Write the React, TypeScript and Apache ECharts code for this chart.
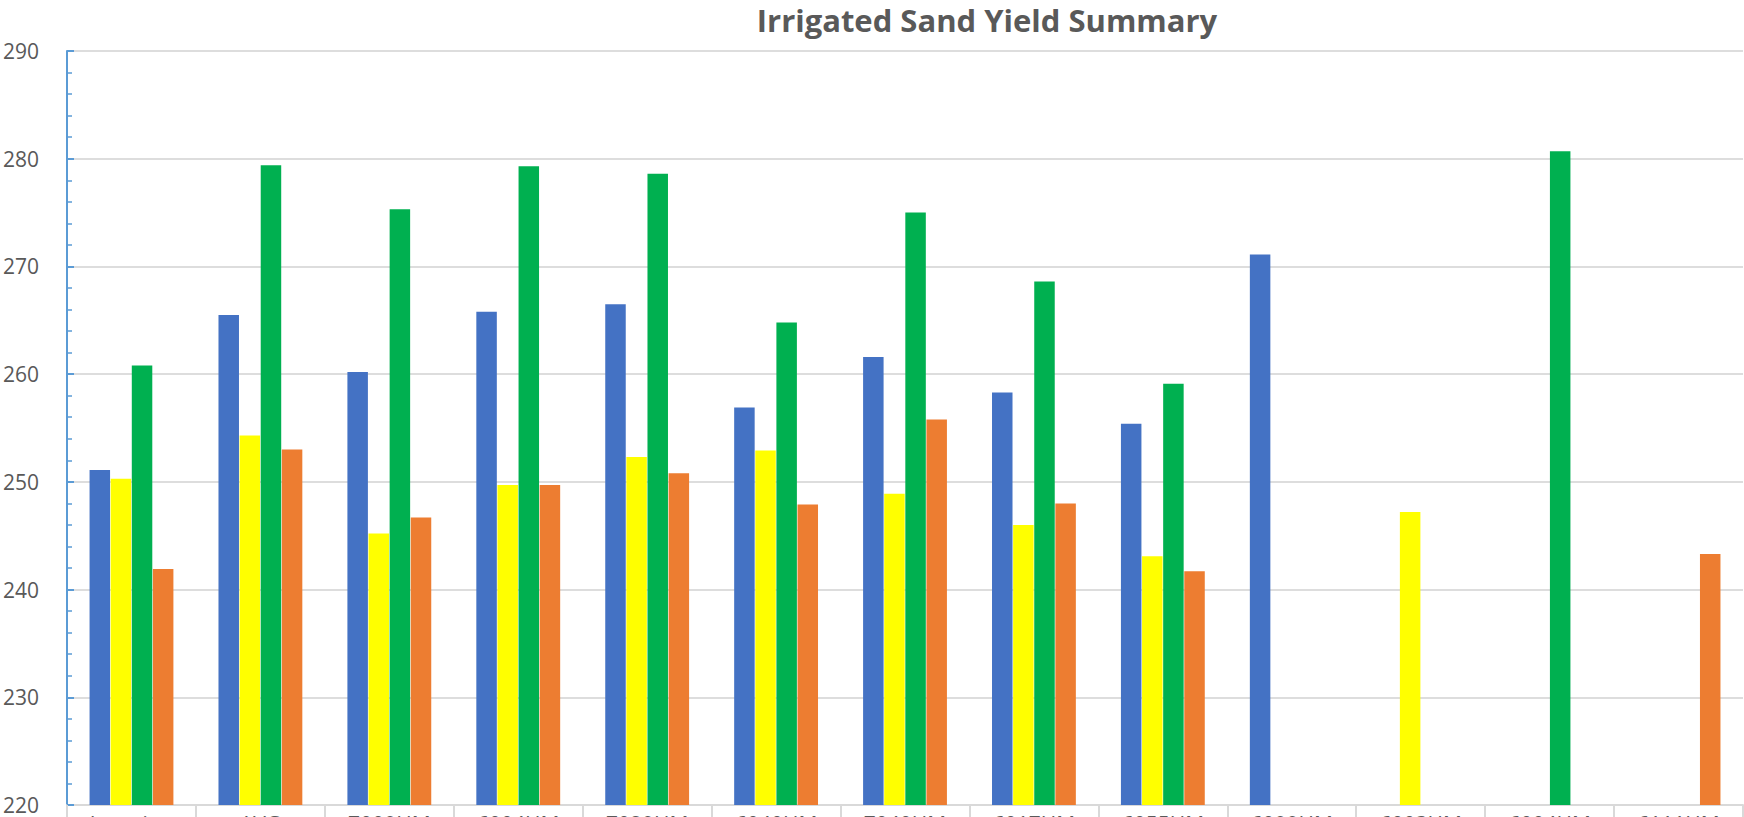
import React, { useEffect, useRef } from "react";
import * as echarts from "echarts";

const categories = ["Location", "AVG", "7009HM", "6004HM", "7029HM", "6040HM", "7040HM", "6017HM", "6055HM", "6099HM", "6003HM", "6004HM", "6111HM"];
const seriesNames = ["Series 1", "Series 2", "Series 3", "Series 4"];
const blueValues = [251.1, 265.5, 260.2, 265.8, 266.5, 256.9, 261.6, 258.3, 255.4, 271.1, null, null, null];
const yellowValues = [250.3, 254.3, 245.2, 249.7, 252.3, 252.9, 248.9, 246.0, 243.1, null, 247.2, null, null];
const greenValues = [260.8, 279.4, 275.3, 279.3, 278.6, 264.8, 275.0, 268.6, 259.1, null, null, 280.7, null];
const orangeValues = [241.9, 253.0, 246.7, 249.7, 250.8, 247.9, 255.8, 248.0, 241.7, null, null, null, 243.3];
const colors = ["#4472C4", "#FFFF00", "#00B050", "#ED7D31"];

export default function App() {
  const ref = useRef<HTMLDivElement>(null);
  useEffect(() => {
    const chart = echarts.init(ref.current!, null, { renderer: "svg" });
    const font = "'Open Sans', sans-serif";
    const all = [blueValues, yellowValues, greenValues, orangeValues];
    chart.setOption({
      animation: false,
      title: {
        text: "Irrigated Sand Yield Summary",
        left: 982,
        top: -1,
        textAlign: "center",
        textStyle: { fontFamily: font, fontSize: 31, fontWeight: "bold", color: "#595959" },
      },
      grid: { left: 66, right: 1, top: 51, bottom: 40, containLabel: false },
      xAxis: {
        type: "category",
        data: categories,
        axisLine: { lineStyle: { color: "#D9D9D9", width: 2 } },
        axisTick: { show: true, length: 40, lineStyle: { color: "#D9D9D9", width: 2 } },
        axisLabel: { fontFamily: font, fontSize: 21, color: "#595959", margin: 8, interval: 0 },
        splitLine: { show: false },
      },
      yAxis: {
        type: "value",
        min: 220,
        max: 290,
        interval: 10,
        axisLine: { show: true, lineStyle: { color: "#5B9BD5", width: 2 } },
        axisTick: { show: true, inside: true, length: 7, lineStyle: { color: "#5B9BD5", width: 2 } },
        minorTick: { show: true, splitNumber: 5, length: 5, lineStyle: { color: "#5B9BD5", width: 1.5 } },
        axisLabel: { fontFamily: font, fontSize: 21, color: "#595959", margin: 28 },
        splitLine: { show: true, lineStyle: { color: "#DDDDDD", width: 2 } },
      },
      series: all.map((vals, i) => ({
        name: seriesNames[i],
        type: "bar",
        data: vals,
        barWidth: 20.5,
        barGap: "3%",
        itemStyle: { color: colors[i] },
      })),
    });
    return () => chart.dispose();
  }, []);
  return (
    <div style={{ position: "absolute", left: 0, top: 0, width: 1744, height: 817, overflow: "hidden", background: "#fff" }}>
      <div ref={ref} style={{ width: 1744, height: 845 }} />
    </div>
  );
}
